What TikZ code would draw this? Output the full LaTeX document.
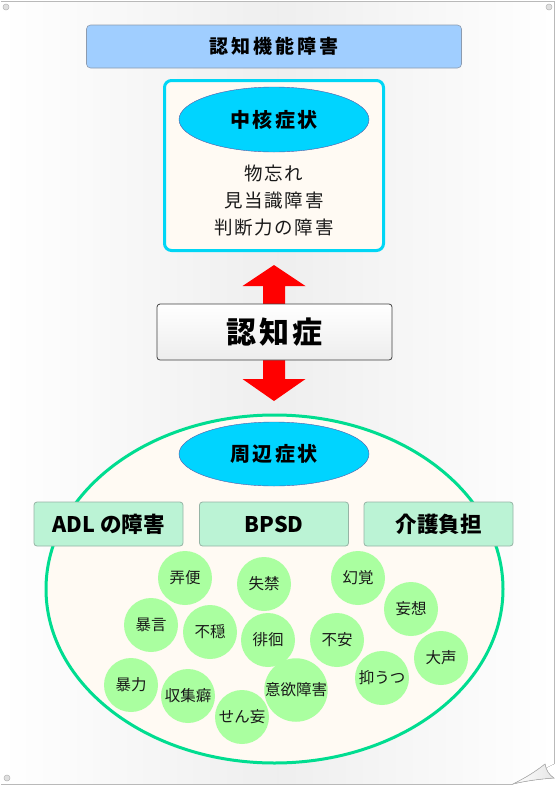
\documentclass[tikz,border=0pt]{standalone}
\usepackage{fontspec}
\setmainfont{Noto Sans CJK JP}
\usetikzlibrary{shapes.geometric}
\definecolor{barblue}{RGB}{160,206,255}
\definecolor{barline}{RGB}{140,155,175}
\definecolor{cyanfill}{RGB}{0,212,255}
\definecolor{coreline}{RGB}{0,214,245}
\definecolor{cream}{RGB}{255,250,243}
\definecolor{bigline}{RGB}{0,221,144}
\definecolor{mint}{RGB}{187,243,213}
\definecolor{mintline}{RGB}{150,180,165}
\definecolor{leaf}{RGB}{170,255,160}
\definecolor{txt}{RGB}{25,25,25}
\tikzset{
  pin/.style={circle,fill=gray!25,draw=gray!60,line width=0.5pt,minimum size=6pt,inner sep=0pt},
  bluehead/.style={ellipse,fill=cyanfill,draw=gray!70!blue,line width=0.4pt,inner sep=0pt,
    minimum width=190pt,minimum height=65pt,
    font=\fontsize{20}{24}\selectfont\bfseries\addfontfeature{LetterSpace=12}},
  catbox/.style={rectangle,rounded corners=3pt,fill=mint,draw=mintline,line width=0.8pt,
    minimum width=149pt,minimum height=44pt,inner sep=0pt,font=\fontsize{21.5}{25}\selectfont\bfseries},
  leafc/.style={circle,fill=leaf,inner sep=0pt,minimum size=54pt,text=txt,
    font=\fontsize{15.5}{18}\selectfont},
  symtext/.style={font=\fontsize{18.5}{22}\selectfont\addfontfeature{LetterSpace=9},text=txt,inner sep=0pt}
}
\begin{document}
\begin{tikzpicture}[x=1pt,y=-1pt]
\useasboundingbox (0,0) rectangle (556,785);
% page
\fill[left color=white,right color=white,middle color=gray!13]
  (1,1) -- (554,1) -- (554,764) -- (513,784) -- (1,784) -- cycle;
\draw[gray!55,line width=0.8pt]
  (1,1) -- (554,1) -- (554,764) (513,784) -- (1,784) -- cycle;
\fill[left color=white,right color=gray!20,draw=gray!60,line width=0.6pt]
  (513,784) .. controls (525,778) and (535,772) .. (545,764)
  .. controls (546,770) and (549,775) .. (554,778)
  .. controls (540,779) and (525,781) .. (513,784) -- cycle;
\node[pin] (p1) at (6,7) {};
\node[pin] (p2) at (549,7) {};
\node[pin] (p3) at (7,778) {};
% top bar
\node[rectangle,rounded corners=4pt,fill=barblue,draw=barline,line width=0.6pt,
  minimum width=375pt,minimum height=43pt,inner sep=0pt,
  font=\fontsize{19}{23}\selectfont\bfseries\addfontfeature{LetterSpace=15}] (kinou) at (274,46.5) {認知機能障害};
% core box
\node[rectangle,rounded corners=7pt,fill=cream,draw=coreline,line width=3pt,
  minimum width=219pt,minimum height=170pt,inner sep=0pt] (core) at (274,165.5) {};
\node[bluehead] (chukaku) at (274,119.5) {中核症状};
\node[symtext] (s1) at (274,173) {物忘れ};
\node[symtext] (s2) at (274,201) {見当識障害};
\node[symtext] (s3) at (274,228) {判断力の障害};
% red double arrow
\coordinate (at) at (274,265);
\coordinate (ab) at (274,401);
\fill[red] (at) -- (305.5,286) -- (285,286) -- (285,379) -- (305.5,379) -- (ab)
  -- (242.5,379) -- (263,379) -- (263,286) -- (242.5,286) -- cycle;
% center box
\node[rectangle,rounded corners=3pt,top color=white,bottom color=gray!14,
  draw=black!75,line width=0.8pt,minimum width=235pt,minimum height=56pt,inner sep=0pt,
  font=\fontsize{30}{34}\selectfont\bfseries\addfontfeature{LetterSpace=10}] (ninchi) at (274.5,332) {認知症};
% big ellipse
\node[ellipse,fill=cream,draw=bigline,line width=3pt,inner sep=0pt,
  minimum width=457pt,minimum height=348pt] (shuhen) at (274.5,589) {};
\node[bluehead,minimum height=64pt] (shuhenhead) at (274,454) {周辺症状};
\node[catbox] (adl) at (108.5,524) {ADL の障害};
\node[catbox] (bpsd) at (274,524) {BPSD};
\node[catbox] (kaigo) at (438.5,524) {介護負担};
% leaf circles
\node[leafc] (c1) at (185,578) {弄便};
\node[leafc] (c2) at (264,584) {失禁};
\node[leafc] (c3) at (358,578) {幻覚};
\node[leafc] (c4) at (411,609) {妄想};
\node[leafc] (c5) at (151,625) {暴言};
\node[leafc] (c6) at (210,632) {不穏};
\node[leafc] (c7) at (268,640) {徘徊};
\node[leafc] (c8) at (337,640) {不安};
\node[leafc] (c9) at (441,658) {大声};
\node[leafc] (c10) at (382,678) {抑うつ};
\node[leafc] (c11) at (296,690) {意欲障害};
\node[leafc] (c12) at (131,685) {暴力};
\node[leafc] (c13) at (188,696) {収集癖};
\node[leafc] (c14) at (242,717) {せん妄};
\end{tikzpicture}
\end{document}
